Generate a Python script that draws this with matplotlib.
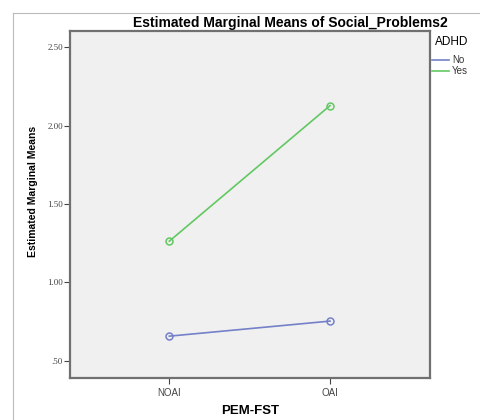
import matplotlib
matplotlib.use('Agg')
import matplotlib.pyplot as plt
from matplotlib.lines import Line2D

plt.rcParams['font.family'] = ['Liberation Sans', 'DejaVu Sans']

# 估计边际均值
groups = ['NOAI', 'OAI']
adhd_levels = ['No', 'Yes']
means_no = [0.657, 0.753]
means_yes = [1.263, 2.128]
y_ticks = [0.5, 1.0, 1.5, 2.0, 2.5]
y_tick_labels = ['.50', '1.00', '1.50', '2.00', '2.50']

colors = {'No': '#7480c8', 'Yes': '#62c862'}

W, H = 481, 420
fig = plt.figure(figsize=(W / 100, H / 100), dpi=100)
ax = fig.add_axes([70 / W, 1 - 378 / H, 360 / W, 347 / H])
ax.set_facecolor('#f0f0f0')

x = list(range(len(groups)))
for level, vals in zip(adhd_levels, [means_no, means_yes]):
    ax.plot(x, vals, color=colors[level], lw=1.2, marker='o', ms=5,
            mfc='none', mec=colors[level], mew=1.1, label=level)

ax.set_xlim(-0.618, 1.622)
ax.set_ylim(0.39, 2.604)
ax.set_xticks(x)
ax.set_xticklabels(groups, fontsize=7, color='#444444')
ax.set_yticks(y_ticks)
ax.set_yticklabels(y_tick_labels, fontsize=6.5, color='#444444', family='Liberation Serif')
ax.tick_params(axis='x', length=4, width=0.8, color='#444444', pad=3)
ax.tick_params(axis='y', length=4, width=0.8, color='#444444', pad=1)

for sp in ax.spines.values():
    sp.set_color('#707070')
    sp.set_linewidth(1.6)

ax.set_xlabel('PEM-FST', fontsize=9.5, fontweight='bold', labelpad=5)
fig.text(33 / W, 1 - 191 / H, 'Estimated Marginal Means', rotation=90,
         fontsize=7.5, fontweight='bold', ha='center', va='center')
fig.text(290 / W, 1 - 23 / H, 'Estimated Marginal Means of Social_Problems2',
         fontsize=10, fontweight='bold', ha='center', va='center')

# 图例：ADHD
fig.text(435 / W, 1 - 42 / H, 'ADHD', fontsize=8.5, ha='left', va='center')
for i, level in enumerate(adhd_levels):
    yy = 1 - (60 + 10.7 * i) / H
    fig.add_artist(Line2D([432 / W, 449 / W], [yy, yy], color=colors[level], lw=1.2))
    fig.text(452 / W, yy, level, fontsize=7, ha='left', va='center', color='#333333')

# 外框线
fig.add_artist(Line2D([13 / W, 13 / W], [0, 1 - 13 / H], color='#bbbbbb', lw=0.8))
fig.add_artist(Line2D([13 / W, 1], [1 - 13 / H, 1 - 13 / H], color='#bbbbbb', lw=0.8))

fig.savefig('out.png', dpi=100)
